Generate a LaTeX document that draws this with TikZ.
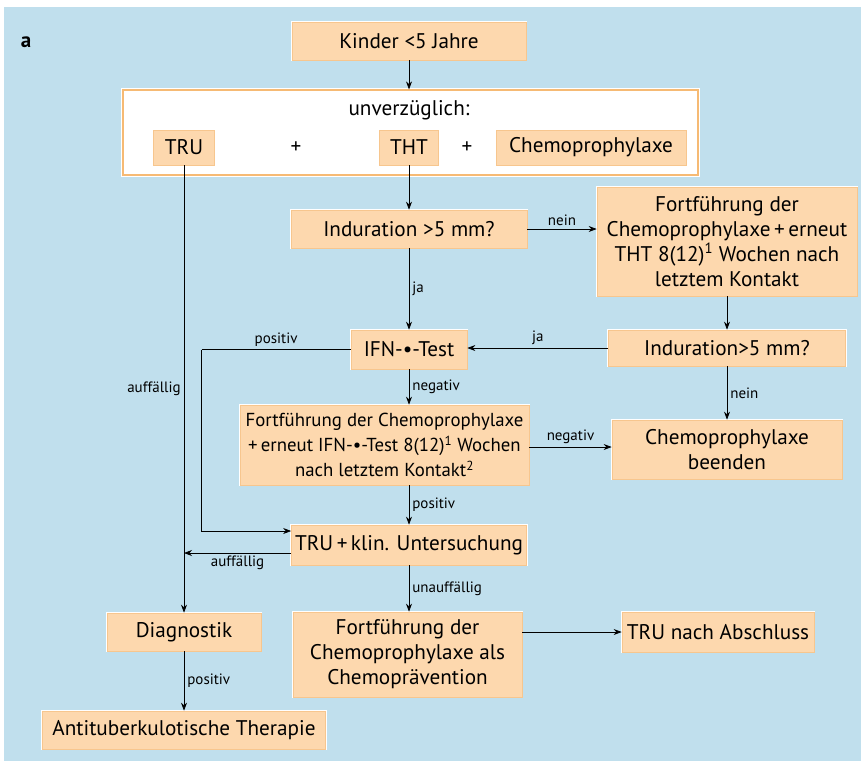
\documentclass[tikz,border=0pt]{standalone}
\usepackage{fontspec}
\setmainfont{PT Sans}
\usepackage{tikz}
\usetikzlibrary{arrows.meta}

\definecolor{bgblue}{RGB}{192,223,237}
\definecolor{peach}{RGB}{253,216,174}
\definecolor{peachline}{RGB}{247,198,142}
\definecolor{frameorange}{RGB}{246,186,116}

\tikzset{
  box/.style={draw=peachline, fill=peach, line width=0.7pt,
    preaction={draw=white, line width=2.6pt},
    inner sep=0pt, align=center, font=\fontsize{21.2}{25}\selectfont},
  smallbox/.style={box, font=\fontsize{18.8}{25}\selectfont},
  lbl/.style={font=\fontsize{15}{17}\selectfont, inner sep=3pt},
  arr/.style={-{Stealth[length=8pt,width=6pt]}, line width=0.7pt},
  plain/.style={line width=0.7pt},
}

\begin{document}
\begin{tikzpicture}[x=1pt,y=-1pt]
  \useasboundingbox (0,0) rectangle (861,761);
  % Background
  \fill[bgblue] (4,7) rectangle (861,761);
  \node[font=\fontsize{21}{24}\selectfont\bfseries] (tag) at (26,42) {a};
  % Top
  \node[box, minimum width=234pt, minimum height=38pt] (kinder) at (409,41) {Kinder <5 Jahre};
  \node[draw=frameorange, fill=white, line width=1.2pt,
    preaction={draw=white, line width=3.6pt},
    minimum width=575pt, minimum height=85pt] (sofort) at (410.5,132.5) {};
  \node[font=\fontsize{21.2}{25}\selectfont] (unverz) at (409,110) {unverzüglich:};
  \node[box, minimum width=61pt, minimum height=35pt] (tru) at (184,147.5) {TRU};
  \node[font=\fontsize{21.2}{25}\selectfont] (plusa) at (296,148) {+};
  \node[box, minimum width=59pt, minimum height=35pt] (tht) at (409,147.5) {THT};
  \node[font=\fontsize{21.2}{25}\selectfont] (plusb) at (467,148) {+};
  \node[box, minimum width=190pt, minimum height=35pt] (chemo) at (591,147.5) {Chemoprophylaxe};
  % Middle
  \node[box, minimum width=236pt, minimum height=38pt] (ind1) at (409,229) {Induration >5 mm?};
  \node[box, minimum width=260pt, minimum height=109pt] (fort1) at (727,241.5)
    {Fortführung der\\Chemoprophylaxe\,+\,erneut\\THT 8(12)\textsuperscript{1} Wochen nach\\letztem Kontakt};
  \node[box, minimum width=116pt, minimum height=39pt] (ifn) at (409,349.5) {IFN-•-Test};
  \node[box, minimum width=237pt, minimum height=36pt] (ind2) at (727,348) {Induration>5 mm?};
  \node[smallbox, minimum width=289pt, minimum height=80pt] (fort2) at (384.5,445)
    {Fortführung der Chemoprophylaxe\\+\,erneut IFN-•-Test 8(12)\textsuperscript{1} Wochen\\nach letztem Kontakt\textsuperscript{2}};
  \node[box, minimum width=230pt, minimum height=59pt] (beenden) at (727,449.5) {Chemoprophylaxe\\beenden};
  \node[box, minimum width=235pt, minimum height=40pt] (trukl) at (409,545) {TRU\,+\,klin. Untersuchung};
  % Bottom
  \node[box, minimum width=154pt, minimum height=38pt] (diag) at (184,632) {Diagnostik};
  \node[box, minimum width=229pt, minimum height=85pt] (fort3) at (407.5,654.5)
    {Fortführung der\\Chemoprophylaxe als\\Chemoprävention};
  \node[box, minimum width=192pt, minimum height=40pt] (tru2) at (718,632) {TRU nach Abschluss};
  \node[box, minimum width=283pt, minimum height=38pt] (anti) at (184,730) {Antituberkulotische Therapie};
  % Turning points
  \coordinate (posturn) at ([xshift=-149pt]ifn.west);
  \coordinate (trukin) at ([yshift=14pt]trukl.west);
  \coordinate (trukout) at ([yshift=-8pt]trukl.west);
  % Arrows
  \draw[arr] (kinder.south) -- (kinder.south |- sofort.north);
  \draw[arr] (tht.south) -- (ind1.north);
  \draw[arr] (ind1.east) -- (fort1.west |- ind1.east) node[lbl, midway, above] {nein};
  \draw[arr] (ind1.south) -- (ifn.north) node[lbl, midway, right] {ja};
  \draw[arr] (fort1.south) -- (ind2.north);
  \draw[arr] (ind2.west) -- (ifn.east |- ind2.west) node[lbl, midway, above] {ja};
  \draw[arr] (ind2.south) -- (beenden.north) node[lbl, midway, right] {nein};
  \draw[arr] (ifn.south) -- (ifn.south |- fort2.north) node[lbl, midway, right] {negativ};
  \draw[arr] ([yshift=-2pt]fort2.east) -- ([yshift=-2pt]beenden.west |- fort2.east) node[lbl, midway, above] {negativ};
  \draw[arr] (ifn.south |- fort2.south) -- (trukl.north) node[lbl, midway, right] {positiv};
  \draw[plain] (ifn.west) -- (posturn) node[lbl, midway, above] {positiv};
  \draw[arr] (posturn) |- (trukin);
  \draw[arr] (trukout) -- (tru.south |- trukout) node[lbl, midway, below] {auffällig};
  \draw[arr] (tru.south) -- (diag.north) node[lbl, midway, left] {auffällig};
  \draw[arr] (trukl.south) -- (fort3.north -| trukl.south) node[lbl, midway, right] {unauffällig};
  \draw[arr] (fort3.east |- tru2.west) -- (tru2.west);
  \draw[arr] (diag.south) -- (anti.north) node[lbl, midway, right] {positiv};
\end{tikzpicture}
\end{document}
